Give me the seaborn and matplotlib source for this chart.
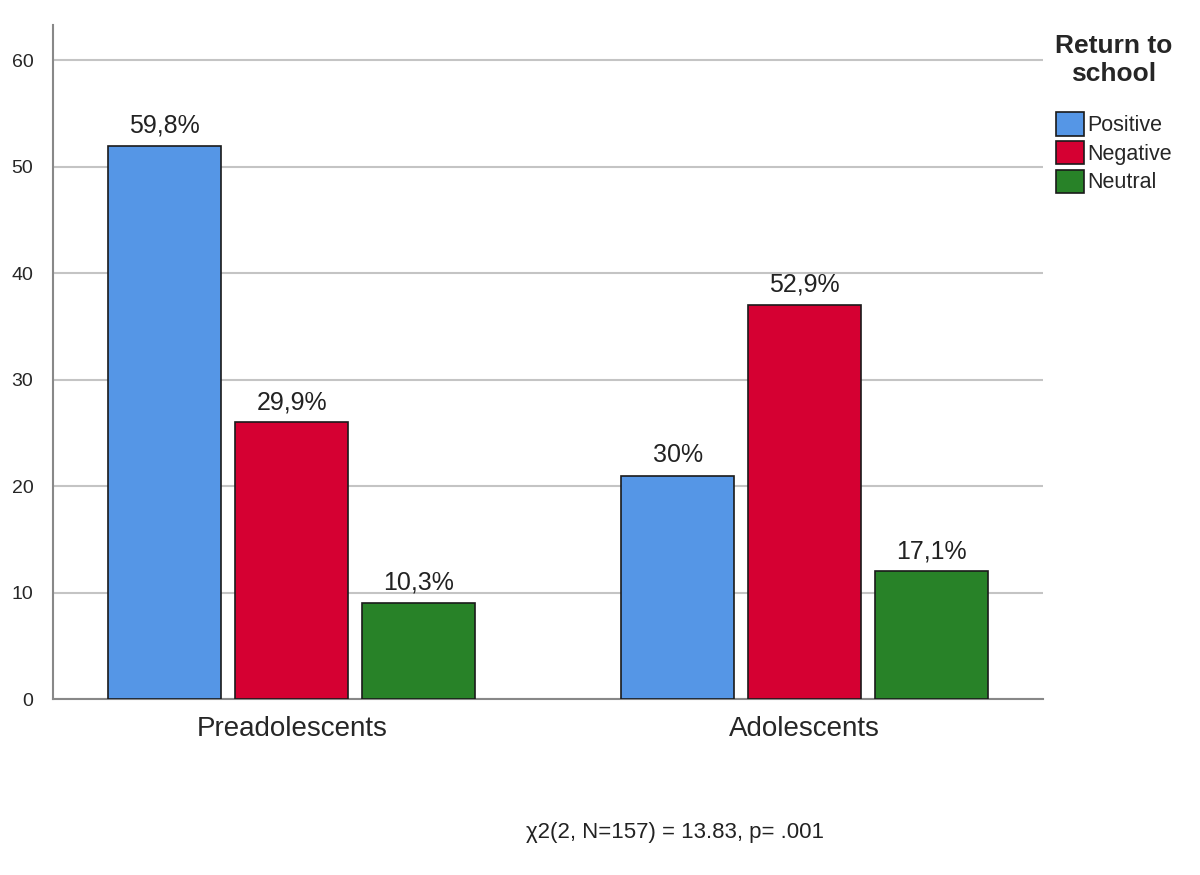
import matplotlib
matplotlib.use("Agg")
import matplotlib.pyplot as plt
import seaborn as sns
import pandas as pd

groups = ["Preadolescents", "Adolescents"]
responses = ["Positive", "Negative", "Neutral"]
counts_pre = [52, 26, 9]
counts_ado = [21, 37, 12]
pct_pre = ["59,8%", "29,9%", "10,3%"]
pct_ado = ["30%", "52,9%", "17,1%"]
colors = ["#5596E6", "#D50032", "#288228"]
yticks = [0, 10, 20, 30, 40, 50, 60]
stat_text = "χ2(2, N=157) = 13.83, p= .001"

rows = []
for g, vals, labs in [(groups[0], counts_pre, pct_pre), (groups[1], counts_ado, pct_ado)]:
    for r, v, l in zip(responses, vals, labs):
        rows.append({"group": g, "response": r, "count": v, "label": l})
df = pd.DataFrame(rows)

sns.set_theme(style="white")
plt.rcParams['font.family'] = ['Liberation Sans', 'DejaVu Sans']

fig = plt.figure(figsize=(12, 8.75), dpi=100)
ax = fig.add_axes([0.044, 0.201, 0.825, 0.770])

sns.barplot(data=df, x="group", y="count", hue="response", order=groups,
            hue_order=responses, palette=colors, saturation=1, width=0.743, gap=0.11,
            edgecolor="#1a1a1a", linewidth=1.2, ax=ax, legend=True, zorder=3)

for container, r in zip(ax.containers, responses):
    labs = [df[(df.group == g) & (df.response == r)]["label"].iloc[0] for g in groups]
    ax.bar_label(container, labels=labs, padding=6, fontsize=18, color="#222222")

ax.set_xlim(-0.466, 1.464)
ax.set_ylim(0, 63.3)
ax.set_yticks(yticks)
ax.set_yticklabels([str(t) for t in yticks], fontsize=14)
ax.tick_params(axis="x", labelsize=20, length=0, pad=12)
ax.tick_params(axis="y", length=0, pad=14)
ax.set_xlabel("")
ax.set_ylabel("")
ax.yaxis.grid(True, color="#c4c4c4", linewidth=1.5, zorder=0)
ax.set_axisbelow(True)
for s in ["top", "right"]:
    ax.spines[s].set_visible(False)
for s in ["left", "bottom"]:
    ax.spines[s].set_color("#888888")
    ax.spines[s].set_linewidth(1.5)

leg = ax.legend(title="Return to\nschool", loc="upper left", bbox_to_anchor=(1.004, 1.0),
                frameon=False, fontsize=15.5, title_fontsize=19, handlelength=1.3,
                handleheight=1.3, handletextpad=0.15, labelspacing=0.22, borderaxespad=0)
leg.get_title().set_fontweight("bold")
leg.get_title().set_multialignment("center")
leg._legend_box.sep = 19
for h in leg.legend_handles:
    h.set_edgecolor("#1a1a1a")

fig.text(0.5625, 0.049, stat_text, ha="center", va="center", fontsize=16, color="#222222")

fig.savefig("out.png", dpi=100)
